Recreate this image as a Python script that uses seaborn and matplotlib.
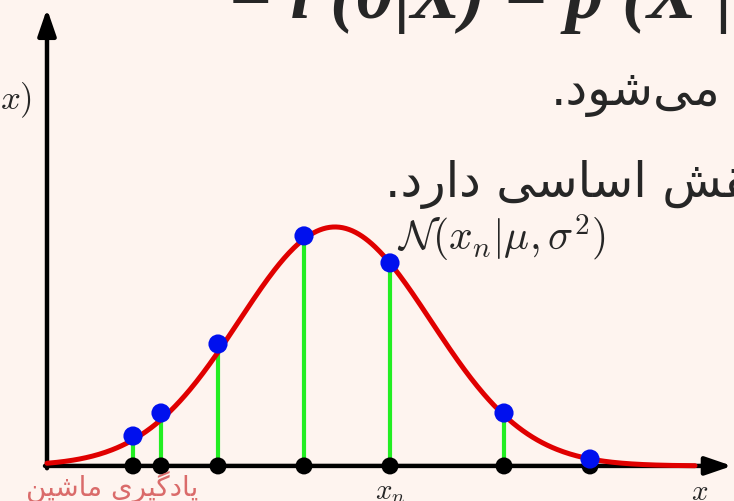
import numpy as np
import pandas as pd
import matplotlib.pyplot as plt
import seaborn as sns

# sample positions and their density heights
x_samples = [0.86, 1.14, 1.71, 2.57, 3.43, 4.57, 5.43]
y_samples = [0.052, 0.092, 0.212, 0.400, 0.353, 0.092, 0.012]

# gaussian drawn through them
mu = 2.88
sigma = 0.96

title_text = "= l (θ|X) = p (X |"
line1 = "می\u200cشود."
line2 = "نقش اساسی دارد."
watermark = "یادگیری ماشین"

bg = "#fef4ef"

# minimal persian shaping, matplotlib does not join arabic letters
forms = {
    "ا": ("\ufe8d", "\ufe8e", None, None),
    "د": ("\ufea9", "\ufeaa", None, None),
    "ر": ("\ufead", "\ufeae", None, None),
    "و": ("\ufeed", "\ufeee", None, None),
    "م": ("\ufee1", "\ufee2", "\ufee3", "\ufee4"),
    "ن": ("\ufee5", "\ufee6", "\ufee7", "\ufee8"),
    "ق": ("\ufed5", "\ufed6", "\ufed7", "\ufed8"),
    "ش": ("\ufeb5", "\ufeb6", "\ufeb7", "\ufeb8"),
    "س": ("\ufeb1", "\ufeb2", "\ufeb3", "\ufeb4"),
    "ی": ("\ufbfc", "\ufbfd", "\ufbfe", "\ufbff"),
    "گ": ("\ufb92", "\ufb93", "\ufb94", "\ufb95"),
}


def shape(text):
    out = []
    for i, c in enumerate(text):
        if c not in forms:
            if c != "\u200c":
                out.append(c)
            continue
        prev = text[i - 1] if i > 0 else ""
        nxt = text[i + 1] if i + 1 < len(text) else ""
        join_prev = prev in forms and forms[prev][2] is not None
        join_next = nxt in forms and forms[c][2] is not None
        iso, fin, ini, med = forms[c]
        if join_prev and join_next:
            out.append(med)
        elif join_prev:
            out.append(fin)
        elif join_next:
            out.append(ini)
        else:
            out.append(iso)
    return "".join(out[::-1])


sns.set_style("white")
plt.rcParams["mathtext.fontset"] = "cm"
plt.rcParams["font.family"] = ["DejaVu Sans"]

fig = plt.figure(figsize=(7.34, 5.02), dpi=100, facecolor=bg)
ax = fig.add_axes([0, 0, 1, 1])
ax.set_facecolor(bg)
ax.set_xlim(-0.47, 6.87)
ax.set_ylim(-0.061, 0.812)
ax.axis("off")

# axes with arrow heads
ax.annotate("", xy=(0, 0.795), xytext=(0, -0.004),
            arrowprops=dict(arrowstyle="-|>,head_length=1.6,head_width=0.55",
                            color="black", lw=3.2, shrinkA=0, shrinkB=0))
ax.annotate("", xy=(6.85, 0), xytext=(-0.02, 0),
            arrowprops=dict(arrowstyle="-|>,head_length=1.6,head_width=0.55",
                            color="black", lw=3.2, shrinkA=0, shrinkB=0))

# density curve
xs = np.linspace(0, 6.48, 400)
curve = pd.DataFrame({"x": xs,
                      "pdf": np.exp(-(xs - mu) ** 2 / (2 * sigma ** 2)) / (sigma * np.sqrt(2 * np.pi))})
sns.lineplot(data=curve, x="x", y="pdf", color="#e00000", lw=3.6, ax=ax, zorder=3)

# stems, samples and points on the curve
for xv, yv in zip(x_samples, y_samples):
    ax.plot([xv, xv], [0, yv], color="#22ee22", lw=3, zorder=2)
samples = pd.DataFrame({"x": x_samples, "y": y_samples})
sns.scatterplot(data=samples, x="x", y=[0] * len(x_samples), color="black",
                s=150, edgecolor="none", ax=ax, zorder=4)
sns.scatterplot(data=samples, x="x", y="y", color="#0010ee",
                s=190, edgecolor="none", ax=ax, zorder=5)

# labels
ax.text(-0.15, 0.638, r"$p(x)$", fontsize=25, ha="right", va="center")
ax.text(3.43, -0.043, r"$x_n$", fontsize=21, ha="center", va="center")
ax.text(6.53, -0.043, r"$x$", fontsize=21, ha="center", va="center")
ax.text(3.50, 0.398, r"$\mathcal{N}(x_n|\mu,\sigma^2)$", fontsize=30,
        ha="left", va="center")

# slide text around the chart
fig.text(229 / 734, 1 - 18 / 502, title_text, fontsize=54, ha="left",
         va="baseline", family="Liberation Serif", style="italic",
         fontweight="bold")
fig.text(0.982, 1 - 105 / 502, shape(line1), fontsize=35, ha="right",
         va="baseline")
fig.text(1.038, 1 - 197 / 502, shape(line2), fontsize=35, ha="right",
         va="baseline")
fig.text(0.153, 0.03, shape(watermark), fontsize=20, ha="center",
         va="center", color="#d65c5c", alpha=0.9)

fig.savefig("out.png", dpi=100, facecolor=bg)
